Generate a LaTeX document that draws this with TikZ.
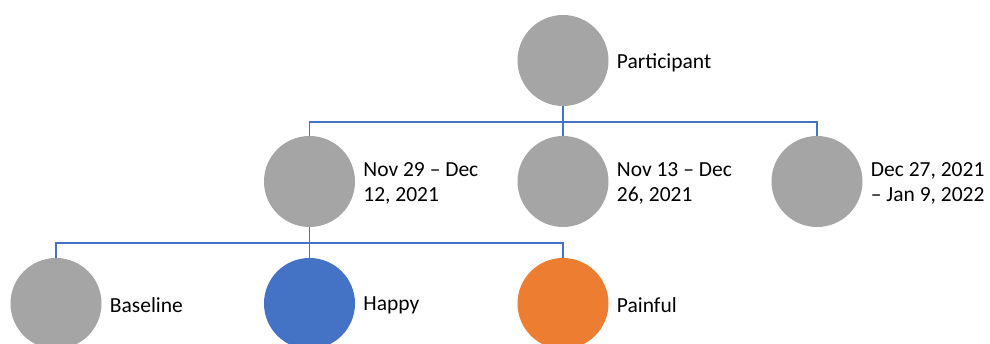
\documentclass[tikz,border=0pt]{standalone}
\usepackage{fontspec}
\setmainfont{Carlito}
\usetikzlibrary{positioning}

\begin{document}
\begin{tikzpicture}[x=1pt,y=-1pt,
	dot/.style={circle, minimum size=91pt, inner sep=0pt, fill=#1},
	dot/.default=dotgrey,
	lbl/.style={right=8pt of #1, yshift=-2pt, inner sep=0pt, align=left, font=\fontsize{21.5}{25.5}\selectfont},
	tree/.style={draw=treeblue, line width=1.8pt}]

	% colours
	\definecolor{dotgrey}{RGB}{165,165,165}
	\definecolor{happyblue}{RGB}{68,114,196}
	\definecolor{painorange}{RGB}{237,125,49}
	\definecolor{treeblue}{RGB}{68,114,196}
	% size of the page, in pixels of the original
	\def\pageW{990}
	\def\pageH{344}
	\def\drop{15.5}

	\useasboundingbox (0,0) rectangle (\pageW,\pageH);

	% top of the tree
	\node[dot] (part) at (563,60.5) {};
	\node[lbl=part] (partlbl) {Participant};

	% the three periods
	\node[dot] (nov29) at (309.5,181.5) {};
	\node[lbl=nov29] (nov29lbl) {Nov 29 – Dec\\12, 2021};
	\node[dot] (nov13) at (563,181.5) {};
	\node[lbl=nov13] (nov13lbl) {Nov 13 – Dec\\26, 2021};
	\node[dot] (dec27) at (817,181.5) {};
	\node[lbl=dec27] (dec27lbl) {Dec 27, 2021\\– Jan 9, 2022};

	% conditions under the first period
	\node[dot] (base) at (56,303.5) {};
	\node[lbl=base] (baselbl) {Baseline};
	\node[dot=happyblue] (happy) at (309.5,303.5) {};
	\node[lbl=happy] (happylbl) {Happy};
	\node[dot=painorange] (pain) at (563,303.5) {};
	\node[lbl=pain] (painlbl) {Painful};

	% connectors, participant to periods
	\draw[tree] (part.south) -- ++(0,\drop) -| (nov29.north);
	\draw[tree] (part.south) ++(0,\drop) -| (dec27.north);
	\draw[tree] (part.south) -- (nov13.north);
	% connectors, first period to conditions
	\draw[tree] (nov29.south) -- ++(0,\drop) -| (base.north);
	\draw[tree] (nov29.south) ++(0,\drop) -| (pain.north);
	\draw[tree] (nov29.south) -- (happy.north);

\end{tikzpicture}
\end{document}
